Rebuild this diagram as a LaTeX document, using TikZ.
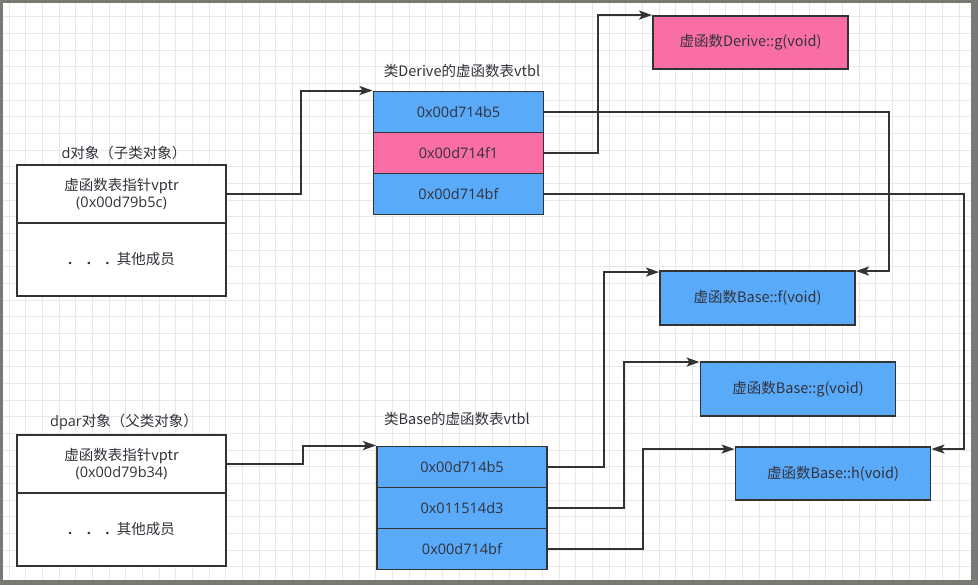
\documentclass[tikz,border=0pt]{standalone}
\usepackage{fontspec}
\setmainfont{Open Sans}
\newfontfamily\cjk{Noto Sans CJK SC}
\usetikzlibrary{arrows.meta}
\definecolor{framec}{RGB}{122,122,116}
\definecolor{gridc}{RGB}{232,232,232}
\definecolor{ln}{RGB}{51,51,51}
\definecolor{bluef}{RGB}{90,170,250}
\definecolor{pinkf}{RGB}{250,110,168}
\definecolor{txt}{RGB}{50,50,58}
\newcommand{\mydots}{\textbf{.}\quad\textbf{.}\quad\textbf{.}\enspace}
\begin{document}
\begin{tikzpicture}[x=1pt,y=-1pt,
  box/.style={draw=ln,line width=1.9pt,inner sep=0pt,align=center,
    font=\fontsize{14.5}{17}\selectfont,text=txt},
  whitebox/.style={box,fill=white,minimum width=209pt},
  bluebox/.style={box,fill=bluef},
  pinkbox/.style={box,fill=pinkf},
  vrow/.style={minimum width=170pt,minimum height=41pt},
  fbox/.style={minimum width=195pt,minimum height=54pt},
  lbl/.style={font=\fontsize{14.5}{17}\selectfont,text=txt,inner sep=0pt},
  conn/.style={draw=ln,line width=2pt,-{Stealth[length=13pt,width=9pt,inset=3pt]}}]
\useasboundingbox (0,0) rectangle (978,585);
\fill[framec] (0,0) rectangle (978,585);
\fill[white] (3,3) rectangle (971,580);
\foreach \i in {0,...,57} \draw[gridc,line width=0.8pt] (9+16.67*\i,3) -- (9+16.67*\i,580);
\foreach \i in {1,...,34} \draw[gridc,line width=0.8pt] (3,16.67*\i) -- (971,16.67*\i);

% d object
\node[lbl] (dlabel) at (124,153) {d\cjk{对象（子类对象）}};
\node[whitebox,minimum height=58pt] (dtop) at (121.5,194) {\cjk{虚函数表指针}vptr\\(0x00d79b5c)};
\node[whitebox,minimum height=73pt] (dbot) at (121.5,259.5) {\mydots\cjk{其他成员}};

% Derive vtbl
\node[lbl] (dvlabel) at (462,71) {\cjk{类}Derive\cjk{的虚函数表}vtbl};
\node[bluebox,vrow] (dv1) at (458.5,112) {0x00d714b5};
\node[pinkbox,vrow] (dv2) at (458.5,153) {0x00d714f1};
\node[bluebox,vrow] (dv3) at (458.5,194) {0x00d714bf};

% functions
\node[pinkbox,fbox,minimum height=53pt] (dg) at (750.5,42.5) {\cjk{虚函数}Derive::g(void)};
\node[bluebox,fbox] (bf) at (757.5,298) {\cjk{虚函数}Base::f(void)};
\node[bluebox,fbox] (bg) at (798,389) {\cjk{虚函数}Base::g(void)};
\node[bluebox,fbox,minimum height=53pt] (bh) at (833,473.5) {\cjk{虚函数}Base::h(void)};

% dpar object
\node[lbl] (plabel) at (124,422) {dpar\cjk{对象（父类对象）}};
\node[whitebox,minimum height=58pt] (ptop) at (121.5,464) {\cjk{虚函数表指针}vptr\\(0x00d79b34)};
\node[whitebox,minimum height=73pt] (pbot) at (121.5,529.5) {\mydots\cjk{其他成员}};

% Base vtbl
\node[lbl] (bvlabel) at (457,419) {\cjk{类}Base\cjk{的虚函数表}vtbl};
\node[bluebox,vrow] (bv1) at (462,467) {0x00d714b5};
\node[bluebox,vrow] (bv2) at (462,508) {0x011514d3};
\node[bluebox,vrow] (bv3) at (462,549) {0x00d714bf};

% connectors
\draw[conn] (dtop.east) -- ++(74,0) |- (dv1.north west);
\draw[conn] (ptop.east) -- ++(76,0) |- (bv1.north west);
\draw[conn] (dv2.east) -- ++(54,0) |- (dg.north west);
\draw[conn] (dv1.east) -- ++(345,0) |- ([yshift=-1pt]bf.north east);
\draw[conn] (dv3.east) -- ++(420,0) |- ([yshift=-3pt]bh.north east);
\draw[conn] (bv1.east) -- ++(56,0) |- ([yshift=-2pt]bf.north west);
\draw[conn] (bv2.east) -- ++(76,0) |- ([yshift=-1pt]bg.north west);
\draw[conn] (bv3.east) -- ++(95,0) |- ([yshift=-3pt]bh.north west);
\end{tikzpicture}
\end{document}
